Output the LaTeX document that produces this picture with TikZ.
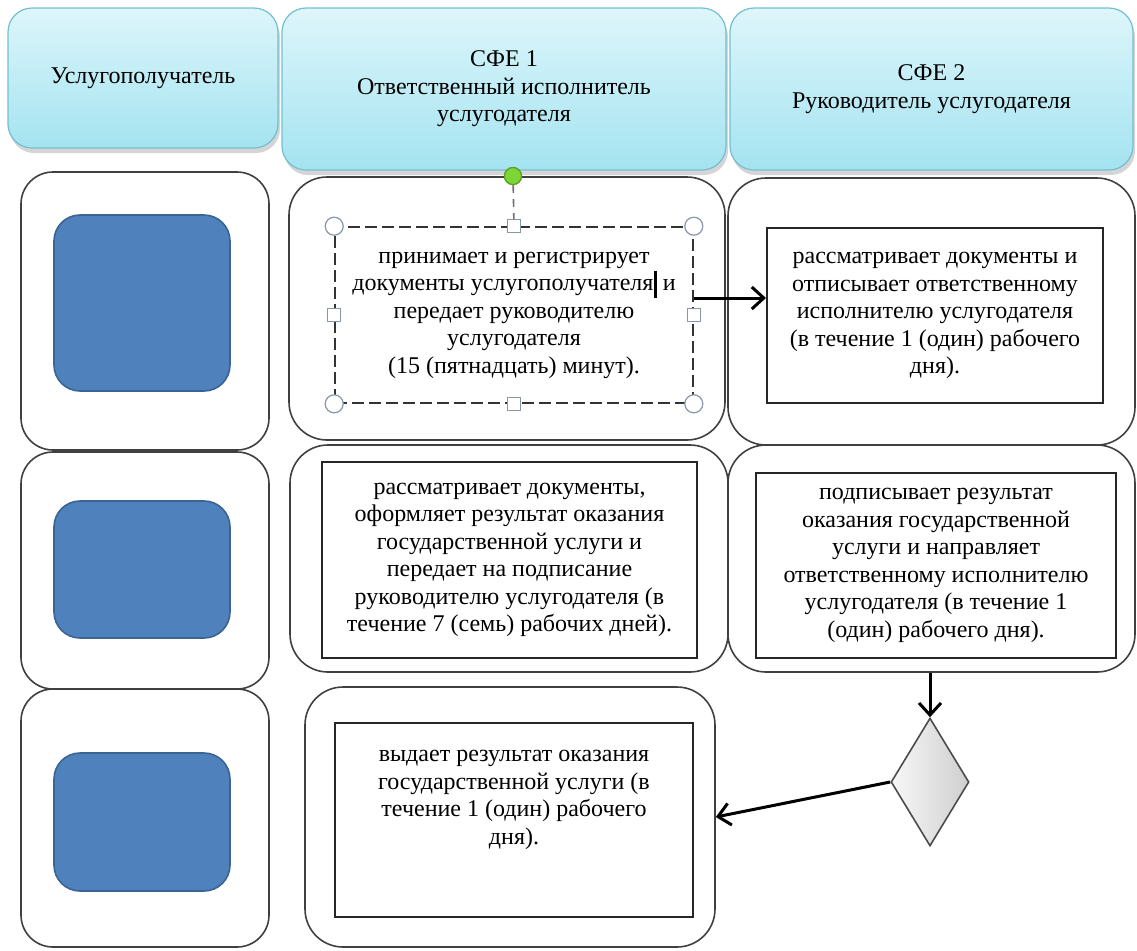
\documentclass[tikz,border=0pt]{standalone}
\usepackage{fontspec}
\setmainfont{Liberation Serif}[Ligatures=TeX]
\usetikzlibrary{shapes.geometric,arrows.meta,shadows,calc}

\definecolor{hdrtop}{HTML}{DDF6FB}
\definecolor{hdrbot}{HTML}{A4E3F0}
\definecolor{hdredge}{HTML}{74BFCF}
\definecolor{blueface}{HTML}{4F81BD}
\definecolor{blueedge}{HTML}{3A6493}
\definecolor{handleedge}{HTML}{8796AA}
\definecolor{greenface}{HTML}{7ED636}
\definecolor{greenedge}{HTML}{5C9E2C}

\tikzset{
  sz/.style 2 args={minimum width=#1*0.5pt, minimum height=#2*0.5pt},
  txt/.style={font=\fontsize{12}{13.75}\selectfont, align=center},
  header/.style={draw=hdredge, line width=0.6pt, rounded corners=12pt,
    top color=hdrtop, bottom color=hdrbot, inner sep=0pt, txt,
    drop shadow={shadow xshift=1pt, shadow yshift=-2.5pt, fill=black!55, opacity=0.3}},
  lane/.style={draw=black!75, line width=0.8pt, rounded corners=19pt, fill=white, inner sep=0pt},
  actorlane/.style={lane, rounded corners=16pt},
  actor/.style={draw=blueedge, line width=0.8pt, fill=blueface, rounded corners=13pt, inner sep=0pt},
  stepbox/.style={draw=black!85, line width=1pt, fill=white, inner sep=0pt, txt},
  selbox/.style={draw=black!80, line width=0.8pt, dash pattern=on 6pt off 2.5pt, fill=white, inner sep=0pt, txt},
  hcirc/.style={circle, draw=handleedge, line width=0.6pt, fill=white, minimum size=9pt, inner sep=0pt},
  hsq/.style={rectangle, draw=handleedge, line width=0.6pt, fill=white, minimum size=6.5pt, inner sep=0pt},
  gdot/.style={circle, draw=greenedge, line width=0.6pt, fill=greenface, minimum size=8.5pt, inner sep=0pt},
  decision/.style={diamond, draw=black!70, line width=0.8pt, left color=gray!6, right color=gray!38, inner sep=0pt},
  arr/.style={line width=1.5pt, -{Straight Barb[length=6pt, width=11pt]}}
}

\begin{document}
\begin{tikzpicture}[x=0.5pt, y=-0.5pt]
\useasboundingbox (0,0) rectangle (1137,950);

% swimlane headers
\node[header, sz={270}{140}] (h1) at (143,78) {Услугополучатель};
\node[header, sz={444}{162}] (h2) at (504,89) {СФЕ 1\\Ответственный исполнитель\\услугодателя};
\node[header, sz={403}{162}] (h3) at (931.5,89) {СФЕ 2\\Руководитель услугодателя};

% left lane: service recipient
\node[actorlane, sz={248}{278}] (l1) at (145,311) {};
\node[actorlane, sz={248}{237}] (l2) at (145,570.5) {};
\node[actorlane, sz={248}{258}] (l3) at (145,818) {};
\node[actor, sz={176}{176}] (b1) at (142,303) {};
\node[actor, sz={176}{137}] (b2) at (142,569.5) {};
\node[actor, sz={176}{138}] (b3) at (142,822) {};

% middle lane: responsible executor
\node[lane, sz={436}{263}] (m1) at (507,308.5) {};
\node[lane, sz={438}{227}] (m2) at (509,558.5) {};
\node[lane, sz={410}{260}] (m3) at (510,817) {};

% right lane: head of the service provider
\node[lane, sz={407}{267}] (r1) at (931.5,311.5) {};
\node[lane, sz={407}{227}] (r2) at (931.5,558.5) {};

% step boxes
\node[selbox, sz={358}{176}] (d1) at (514,315)
  {принимает и регистрирует\\документы услугополучателя\kern0.3pt\rule[-0.3em]{1.4pt}{1.1em} и\\передает руководителю\\услугодателя\\(15 (пятнадцать) минут).};
\node[stepbox, sz={336}{175}] (ri1) at (935,315.5)
  {рассматривает документы и\\отписывает ответственному\\исполнителю услугодателя\\(в течение 1 (один) рабочего\\дня).};
\node[stepbox, sz={375}{196}] (mi2) at (509.5,560)
  {рассматривает документы,\\оформляет результат оказания\\государственной услуги и\\передает на подписание\\руководителю услугодателя (в\\течение 7 (семь) рабочих дней).};
\node[stepbox, sz={360}{185}] (ri2) at (936,565.5)
  {подписывает результат\\оказания государственной\\услуги и направляет\\ответственному исполнителю\\услугодателя (в течение 1\\(один) рабочего дня).};
\node[stepbox, sz={358}{194}] (mi3) at (514,820) {};
\node[txt] (t3) at (514,800)
  {выдает результат оказания\\государственной услуги (в\\течение 1 (один) рабочего\\дня).};

% selection handles on the first step
\node[gdot] (rot) at (513,176) {};
\node[hsq] (sn) at (d1.north) {};
\node[hsq] (ss) at (d1.south) {};
\node[hsq] (sw) at (d1.west) {};
\node[hsq] (se) at (d1.east) {};
\node[hcirc] (cnw) at (d1.north west) {};
\node[hcirc] (cne) at (d1.north east) {};
\node[hcirc] (csw) at (d1.south west) {};
\node[hcirc] (cse) at (d1.south east) {};
\draw[black!55, line width=0.8pt, dash pattern=on 4pt off 3pt] (rot) -- (sn);
\node[gdot] at (rot) {};

% decision
\node[decision, sz={78}{128}] (dia) at (930,782) {};

% flow
\coordinate (a1) at ($(d1.east)+(0,-17)$);
\draw[arr] (a1) -- (a1 -| ri1.west);
\draw[arr] (r2.south -| dia.north) -- (dia.north);
\draw[arr] (dia.west) -- (m3.east);
\end{tikzpicture}
\end{document}
